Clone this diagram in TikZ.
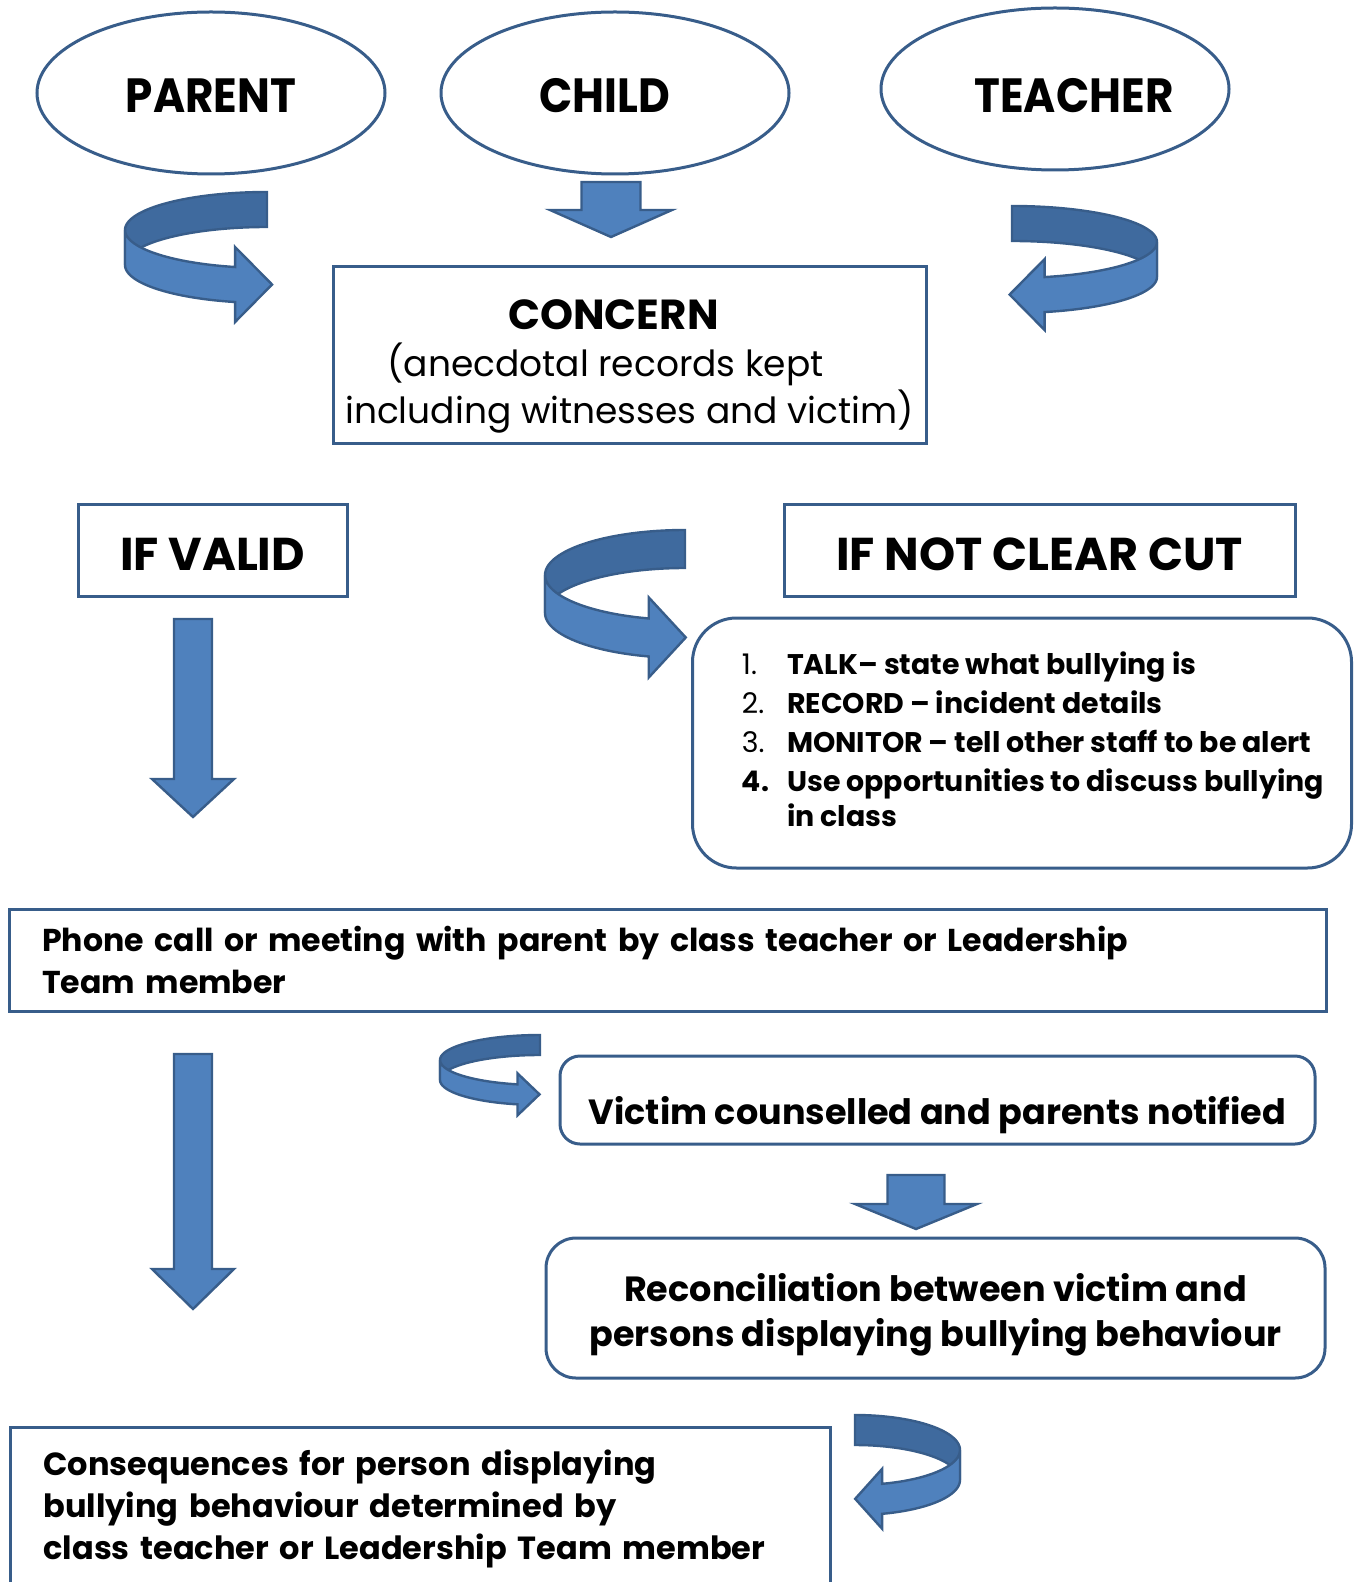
\documentclass[tikz,border=0pt]{standalone}
\usepackage{fontspec}
\setmainfont{Poppins}
\newfontfamily\narrowfont{Poppins}[FakeStretch = 0.91]
\usetikzlibrary{shapes.geometric}
\definecolor{edge}{HTML}{385D8A}
\definecolor{front}{HTML}{4F81BD}
\definecolor{back}{HTML}{3F6A9E}
\tikzset{party/.style = {draw = edge, line width = 1.5pt, ellipse, minimum width = 174pt, minimum height = 81pt, inner sep = 0, font = \narrowfont\bfseries\fontsize{24}{28}\selectfont}}
\tikzset{plainbox/.style = {draw = edge, line width = 1.5pt, inner sep = 0}}
\tikzset{roundbox/.style = {plainbox, rounded corners = 22pt}}
\tikzset{flow/.style = {fill = front, draw = edge, line width = 1.2pt, line join = miter}}
\tikzset{flowback/.style = {fill = back, draw = edge, line width = 1.2pt}}

% block arrow pointing down: centre x, top, half shaft, head base, half head, tip
\newcommand{\blockdown}[6]{%
  \draw [flow] (#1-#3, #2) -- (#1+#3, #2) -- (#1+#3, #4) -- (#1+#5, #4)
    -- (#1, #6) -- (#1-#5, #4) -- (#1-#3, #4) -- cycle;}

% ribbon arrow: scope options, a, b, h, end angle, head extra, head length
\newcommand{\twist}[7]{%
  \begin{scope}[#1]
    \draw [flowback] plot [domain = 90:180, samples = 30, smooth] ({#2*cos(\x)}, {-#3*sin(\x)-#4})
      -- plot [domain = 180:90, samples = 30, smooth] ({#2*cos(\x)}, {-#3*sin(\x)}) -- cycle;
    \draw [flow] plot [domain = 180:#5, samples = 30, smooth] ({#2*cos(\x)}, {-#3*sin(\x)-#4})
      -- ({#2*cos(#5)}, {-#3*sin(#5)-#4-#6})
      -- ({#2*cos(#5)+#7}, {-#3*sin(#5)-#4/2})
      -- ({#2*cos(#5)}, {-#3*sin(#5)+#6})
      -- ({#2*cos(#5)}, {-#3*sin(#5)})
      -- plot [domain = #5:180, samples = 30, smooth] ({#2*cos(\x)}, {-#3*sin(\x)}) -- cycle;
  \end{scope}}

\begin{document}
\begin{tikzpicture}[x = 0.5pt, y = -0.5pt]
  \useasboundingbox (0, 0) rectangle (1358, 1582);
  \clip (0, 0) rectangle (1358, 1582);

  % who raises it
  \node [party] at (211, 93) (parent) {\rule{0pt}{20pt}PARENT};
  \node [party] at (615, 93) (child) {\rule{0pt}{20pt}CHILD\hspace*{10pt}};
  \node [party] at (1055, 89) (teacher) {\rule{0pt}{24pt}\hspace*{19pt}TEACHER};

  \twist{shift = {(267, 265)}}{142}{38}{35}{257}{20}{37}
  \blockdown{611}{182}{29.5}{210}{61}{237}
  \twist{shift = {(1012, 277)}, xscale = -1}{145}{36}{35}{257}{18}{35}

  \node [plainbox, minimum width = 296.5pt, minimum height = 88.5pt, align = center, font = \fontsize{18}{23.5}\selectfont] at (629.5, 355.5) (concern)
    {\rule{0pt}{26pt}{\bfseries\fontsize{21}{24}\selectfont CONCERN}\hspace*{16pt}\\
     (anecdotal records kept\rule{24pt}{0pt}\\
     including witnesses and victim)};

  % two ways on
  \node [plainbox, minimum width = 134.5pt, minimum height = 45.5pt, font = \bfseries\fontsize{23}{27}\selectfont] at (212.5, 550.5) (valid) {\rule{0pt}{20pt}IF VALID};
  \node [plainbox, minimum width = 255.5pt, minimum height = 45.5pt, font = \bfseries\fontsize{23}{27}\selectfont] at (1039.5, 550.5) (unclear) {\rule{0pt}{20pt}IF NOT CLEAR CUT};

  \blockdown{193}{619}{19}{779}{41}{817}
  \twist{shift = {(685, 613)}}{140}{45}{38}{255}{21}{37}

  \node [roundbox, minimum width = 329.5pt, minimum height = 125pt, font = \fontsize{14.2}{19.5}\selectfont] at (1022, 743) (steps)
    {\rule{11pt}{0pt}\begin{tabular}{@{}l@{\hspace{9pt}}l@{}}
      1. & \textbf{TALK– state what bullying is}\\
      2. & \textbf{RECORD – incident details}\\
      3. & \textbf{MONITOR – tell other staff to be alert}\\
      \textbf{4.} & \textbf{Use opportunities to discuss bullying}\\[-2pt]
       & \textbf{in class}
     \end{tabular}};

  % follow up
  \node [plainbox, minimum width = 658.5pt, minimum height = 51pt, inner xsep = 16.5pt, text width = 625.5pt, align = left, font = \bfseries\fontsize{15.8}{21}\selectfont] at (667.5, 960) (phone)
    {Phone call or meeting with parent by class teacher or Leadership\\ Team member};

  \blockdown{193}{1054}{19}{1269}{41}{1309}
  \twist{shift = {(540, 1080)}}{100}{25}{20}{257}{11}{22}

  \node [roundbox, rounded corners = 10pt, minimum width = 377.5pt, minimum height = 44pt, font = \bfseries\fontsize{17.5}{21}\selectfont] at (937.5, 1100) (victim)
    {\rule{0pt}{29pt}Victim counselled and parents notified};

  \blockdown{916}{1175}{28.5}{1204}{61}{1229}

  \node [roundbox, rounded corners = 15pt, minimum width = 389.5pt, minimum height = 70pt, align = center, font = \bfseries\fontsize{17.5}{22.5}\selectfont] at (935.5, 1308) (reconcile)
    {\rule{0pt}{21pt}Reconciliation between victim and\\ persons displaying bullying behaviour};

  \twist{shift = {(855, 1480)}, xscale = -1}{105}{35}{30}{255}{15}{27}

  \node [plainbox, anchor = north west, text width = 377pt, inner xsep = 16.5pt, inner ysep = 11pt, align = left, font = \bfseries\fontsize{16}{21}\selectfont] at (9, 1426) (outcome)
    {Consequences for person displaying\\ bullying behaviour determined by\\ class teacher or Leadership Team member};
\end{tikzpicture}
\end{document}
